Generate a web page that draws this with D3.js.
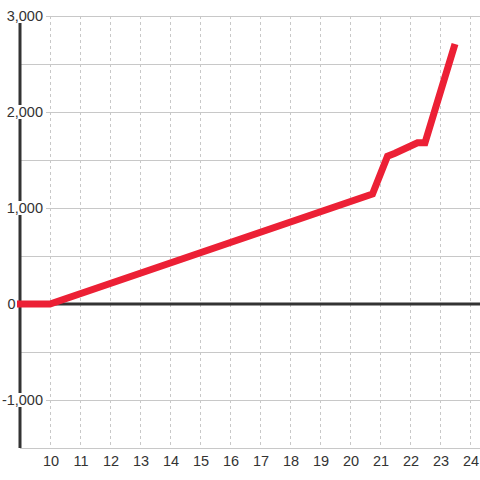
<!DOCTYPE html>
<html><head><meta charset="utf-8">
<script src="https://cdn.jsdelivr.net/npm/d3@7"></script>
<style>html,body{margin:0;padding:0;background:#fff;}svg{display:block;}</style>
</head><body>
<div id="chart"></div>
<script>
const times = [8.9, 10, 20.75, 21.25, 21.5, 22.25, 22.5, 23.5];
const values = [0, 0, 1146, 1540, 1570, 1680, 1680, 2708];
const xTicks = [10, 11, 12, 13, 14, 15, 16, 17, 18, 19, 20, 21, 22, 23, 24];
const yGrid = [3000, 2500, 2000, 1500, 1000, 500, 0, -500, -1000];
const yLabels = [3000, 2000, 1000, 0, -1000];

const W = 480, H = 480;
const svg = d3.select("#chart").append("svg").attr("width", W).attr("height", H);
svg.append("rect").attr("width", W).attr("height", H).attr("fill", "#fff");

const x = d3.scaleLinear().domain([9, 24 + 1/3]).range([20, 480]);
const y = d3.scaleLinear().domain([-1500, 3000]).range([448, 16]);

// horizontal gridlines
svg.append("g").selectAll("line").data(yGrid).join("line")
  .attr("x1", 20).attr("x2", W)
  .attr("y1", d => Math.round(y(d)) + 0.5).attr("y2", d => Math.round(y(d)) + 0.5)
  .attr("stroke", "#c8c8c8").attr("stroke-width", 1);

// vertical dotted gridlines
svg.append("g").selectAll("line").data(xTicks).join("line")
  .attr("x1", d => Math.round(x(d)) + 0.5).attr("x2", d => Math.round(x(d)) + 0.5)
  .attr("y1", y(3000)).attr("y2", y(-1500))
  .attr("stroke", "#c8c8c8").attr("stroke-width", 1).attr("stroke-dasharray", "3,3");

// bottom line
svg.append("line").attr("x1", 20).attr("x2", W)
  .attr("y1", y(-1500) + 0.5).attr("y2", y(-1500) + 0.5)
  .attr("stroke", "#c8c8c8").attr("stroke-width", 1);

// zero line
svg.append("line").attr("x1", 20).attr("x2", W)
  .attr("y1", y(0)).attr("y2", y(0))
  .attr("stroke", "#333").attr("stroke-width", 3);

// y axis line
svg.append("line").attr("x1", x(9)).attr("x2", x(9))
  .attr("y1", y(3000)).attr("y2", y(-1500))
  .attr("stroke", "#333").attr("stroke-width", 3);

// y labels with background
const fmt = d3.format(",");
const lab = svg.append("g").selectAll("g").data(yLabels).join("g");
lab.each(function(d) {
  const g = d3.select(this);
  const t = g.append("text")
    .attr("x", d === 0 ? 15.5 : 43)
    .attr("y", y(d))
    .attr("dy", "0.35em")
    .attr("text-anchor", "end")
    .attr("font-family", "Liberation Sans, Arial, sans-serif")
    .attr("font-size", 14.5)
    .attr("fill", "#333")
    .text(d < 0 ? "-" + fmt(-d) : fmt(d));
  if (d !== 0) {
    const bb = t.node().getBBox();
    g.insert("rect", "text")
      .attr("x", bb.x - 1).attr("y", y(d) - 7)
      .attr("width", bb.width + 4).attr("height", 14)
      .attr("fill", "#fff");
  }
});

// x labels
svg.append("g").selectAll("text").data(xTicks).join("text")
  .attr("x", d => x(d) + 1)
  .attr("y", 466)
  .attr("text-anchor", "middle")
  .attr("font-family", "Liberation Sans, Arial, sans-serif")
  .attr("font-size", 14.5)
  .attr("fill", "#333")
  .text(d => d);

// series line
const pts = times.map((t, i) => [t, values[i]]);
svg.append("path").datum(pts)
  .attr("d", d3.line().x(d => x(d[0])).y(d => y(d[1])))
  .attr("fill", "none")
  .attr("stroke", "#ec2035")
  .attr("stroke-width", 7)
  .attr("stroke-linejoin", "miter")
  .attr("stroke-linecap", "butt");
</script>
</body></html>
